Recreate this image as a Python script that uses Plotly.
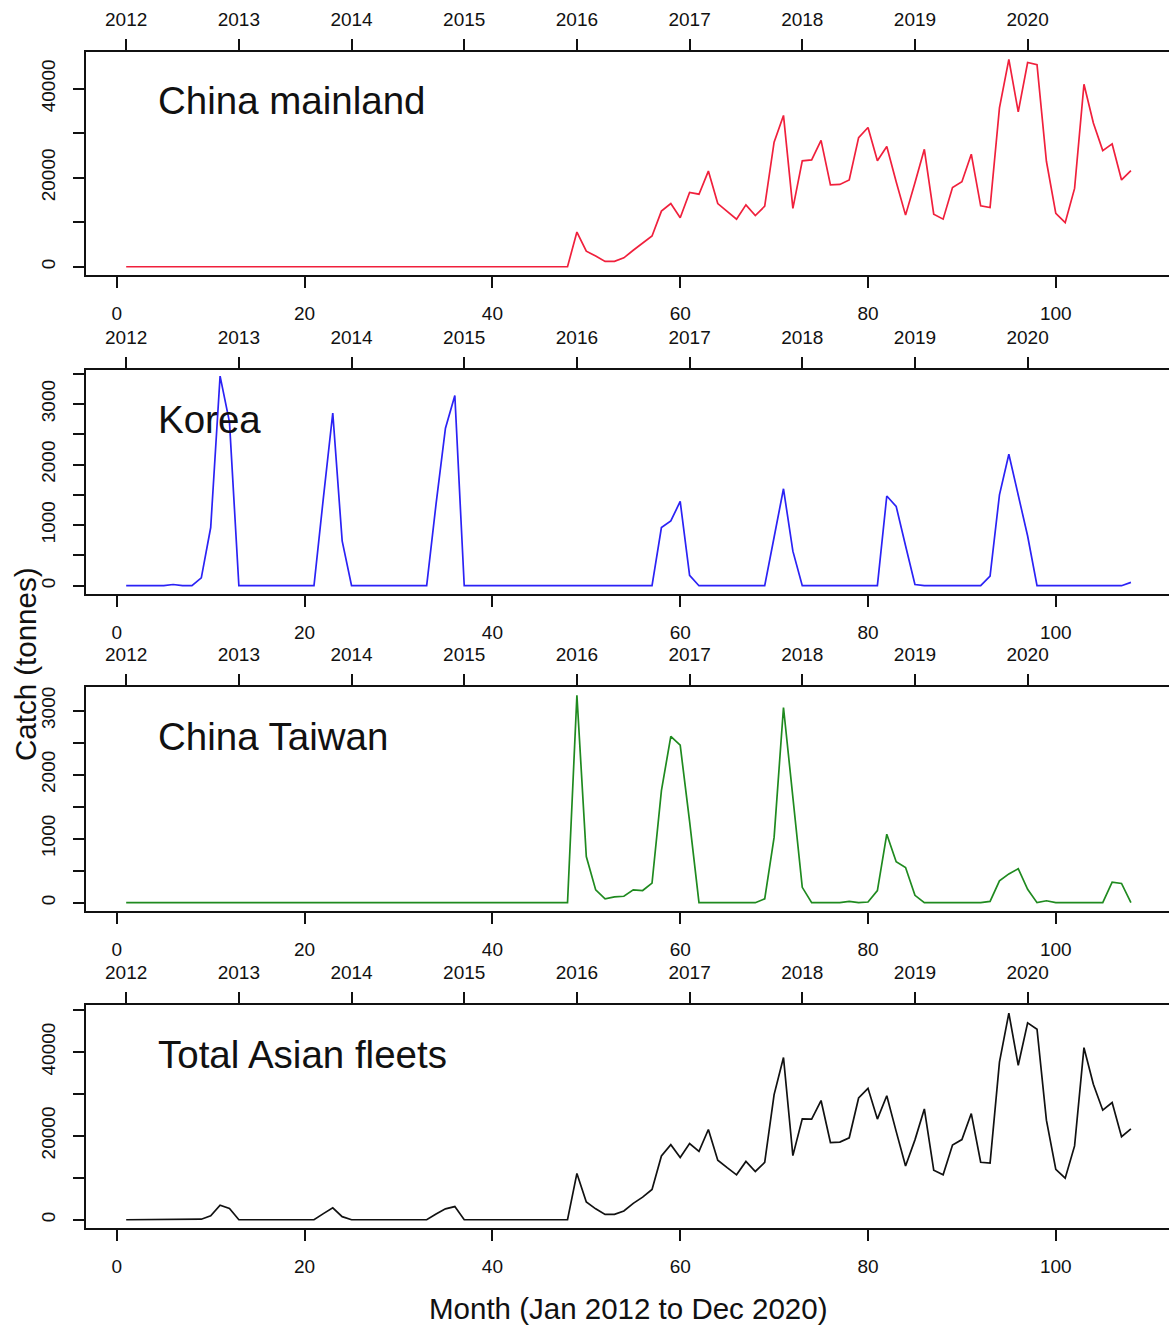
import plotly.graph_objects as go

# ---------------- data ----------------
months = list(range(1, 109))

china_mainland = [0] * 48 + [
    7800, 3500, 2400, 1200, 1200, 2000, 3700, 5200, 6900, 12500, 14200, 11000,   # 49-60
    16700, 16300, 21500, 14200, 12400, 10700, 13900, 11500, 13600, 28000, 34000, 13100,  # 61-72
    23800, 24000, 28400, 18400, 18500, 19500, 29000, 31300, 23800, 27000, 19100, 11600,  # 73-84
    18900, 26400, 11800, 10700, 17800, 19100, 25300, 13700, 13300, 35700, 46600, 34800,  # 85-96
    45900, 45400, 23700, 12000, 9900, 17600, 41000, 32300, 26100, 27600, 19500, 21600,   # 97-108
]

korea = [
    0, 0, 0, 0, 0, 20, 0, 0, 130, 960, 3460, 2700,            # 1-12
    0, 0, 0, 0, 0, 0, 0, 0, 0, 1450, 2850, 740,               # 13-24
    0, 0, 0, 0, 0, 0, 0, 0, 0, 1350, 2600, 3140,              # 25-36
    0, 0, 0, 0, 0, 0, 0, 0, 0, 0, 0, 0,                       # 37-48
    0, 0, 0, 0, 0, 0, 0, 0, 0, 960, 1070, 1390,               # 49-60
    170, 0, 0, 0, 0, 0, 0, 0, 0, 800, 1600, 570,              # 61-72
    0, 0, 0, 0, 0, 0, 0, 0, 0, 1480, 1310, 660,               # 73-84
    20, 0, 0, 0, 0, 0, 0, 0, 160, 1500, 2170, 1470,           # 85-96
    820, 0, 0, 0, 0, 0, 0, 0, 0, 0, 0, 55,                    # 97-108
]

china_taiwan = [0] * 48 + [
    3240, 720, 200, 60, 90, 100, 200, 190, 305, 1750, 2600, 2460,   # 49-60
    1270, 0, 0, 0, 0, 0, 0, 0, 60, 1020, 3050, 1600,                # 61-72
    240, 0, 0, 0, 0, 20, 0, 10, 190, 1070, 640, 550,                # 73-84
    115, 0, 0, 0, 0, 0, 0, 0, 20, 340, 450, 530,                    # 85-96
    210, 0, 30, 0, 0, 0, 0, 0, 0, 320, 300, 0,                      # 97-108
]

# Total of the three fleets
total_asian = [a + b + c for a, b, c in zip(china_mainland, korea, china_taiwan)]

panel_names = ["China mainland", "Korea", "China Taiwan", "Total Asian fleets"]
series = [china_mainland, korea, china_taiwan, total_asian]
colors = ["#f0203c", "#2b22f5", "#1f8a1f", "#111111"]

month_ticks = [0, 20, 40, 60, 80, 100]
year_ticks = [1, 13, 25, 37, 49, 61, 73, 85, 97]
year_labels = ["2012", "2013", "2014", "2015", "2016", "2017", "2018", "2019", "2020"]

y_ranges = [[-1856, 48256], [-137, 3560], [-130, 3370], [-1968, 51168]]
y_tickvals = [
    [0, 10000, 20000, 30000, 40000],
    [0, 500, 1000, 1500, 2000, 2500, 3000, 3500],
    [0, 500, 1000, 1500, 2000, 2500, 3000],
    [0, 10000, 20000, 30000, 40000, 50000],
]
y_ticktext = [
    ["0", "", "20000", "", "40000"],
    ["0", "", "1000", "", "2000", "", "3000", ""],
    ["0", "", "1000", "", "2000", "", "3000"],
    ["0", "", "20000", "", "40000", ""],
]

# ---------------- layout geometry ----------------
W, H = 1169, 1326
x_left_px = 86
px_per_month = 9.39
x_range = [-3.28, -3.28 + (W - x_left_px) / px_per_month]
panel_px = [(52, 275), (370, 594), (687, 911), (1005, 1228)]

FONT = "Liberation Sans, Arial, Helvetica, sans-serif"
TXT = "#111111"

fig = go.Figure()
layout = dict(
    width=W, height=H, autosize=False,
    margin=dict(l=0, r=0, t=0, b=0, pad=0),
    paper_bgcolor="white", plot_bgcolor="white",
    showlegend=False,
    font=dict(family=FONT, color=TXT, size=18),
)

annotations = []
for i in range(4):
    n = i + 1
    top_px, bot_px = panel_px[i]
    dom = [1 - bot_px / H, 1 - top_px / H]
    xb = "x" if n == 1 else f"x{n}"
    yb = "y" if n == 1 else f"y{n}"
    xt = f"x{n + 4}"
    # invisible companion trace so the top (year) axis is drawn
    fig.add_trace(go.Scatter(
        x=months, y=series[i], mode="lines",
        line=dict(color="rgba(0,0,0,0)", width=0), opacity=0,
        xaxis=xt, yaxis=yb, hoverinfo="skip",
    ))
    fig.add_trace(go.Scatter(
        x=months, y=series[i], mode="lines",
        line=dict(color=colors[i], width=1.7),
        xaxis=xb, yaxis=yb, hoverinfo="skip",
    ))
    common_x = dict(
        range=x_range, domain=[x_left_px / W, 1.0],
        showgrid=False, zeroline=False,
        showline=True, linecolor="#111111", linewidth=1.6,
        ticks="outside", ticklen=11, tickwidth=1.5, tickcolor="#111111",
        tickfont=dict(size=19, family=FONT, color=TXT),
    )
    layout[f"xaxis{n}" if n > 1 else "xaxis"] = dict(
        common_x, anchor=yb, side="bottom",
        tickmode="array", tickvals=month_ticks,
        ticktext=[str(v) for v in month_ticks],
        ticklabelstandoff=9,
    )
    layout[f"xaxis{n + 4}"] = dict(
        common_x, anchor=yb, side="top", overlaying=xb,
        tickmode="array", tickvals=year_ticks, ticktext=year_labels,
        ticklabelstandoff=6,
    )
    layout[f"yaxis{n}" if n > 1 else "yaxis"] = dict(
        range=y_ranges[i], domain=dom, anchor=xb,
        showgrid=False, zeroline=False,
        showline=True, linecolor="#111111", linewidth=1.6,
        ticks="outside", ticklen=11, tickwidth=1.5, tickcolor="#111111",
        tickmode="array", tickvals=y_tickvals[i], ticktext=y_ticktext[i],
        tickangle=-90,
        tickfont=dict(size=19, family=FONT, color=TXT),
        ticklabelstandoff=11,
    )
    annotations.append(dict(
        text=panel_names[i], xref="paper", yref="paper",
        x=156 / W, y=1 - (top_px + 49) / H,
        xanchor="left", yanchor="middle", showarrow=False,
        font=dict(size=38.5, family=FONT, color=TXT),
    ))

annotations.append(dict(
    text="Catch (tonnes)", xref="paper", yref="paper",
    x=25 / W, y=1 - 665 / H, textangle=-90,
    xanchor="center", yanchor="middle", showarrow=False,
    font=dict(size=29.5, family=FONT, color=TXT),
))
annotations.append(dict(
    text="Month (Jan 2012 to Dec 2020)", xref="paper", yref="paper",
    x=628.5 / W, y=1 - 1308 / H,
    xanchor="center", yanchor="middle", showarrow=False,
    font=dict(size=29.5, family=FONT, color=TXT),
))
layout["annotations"] = annotations

fig.update_layout(**layout)
fig.write_html("out.html")
